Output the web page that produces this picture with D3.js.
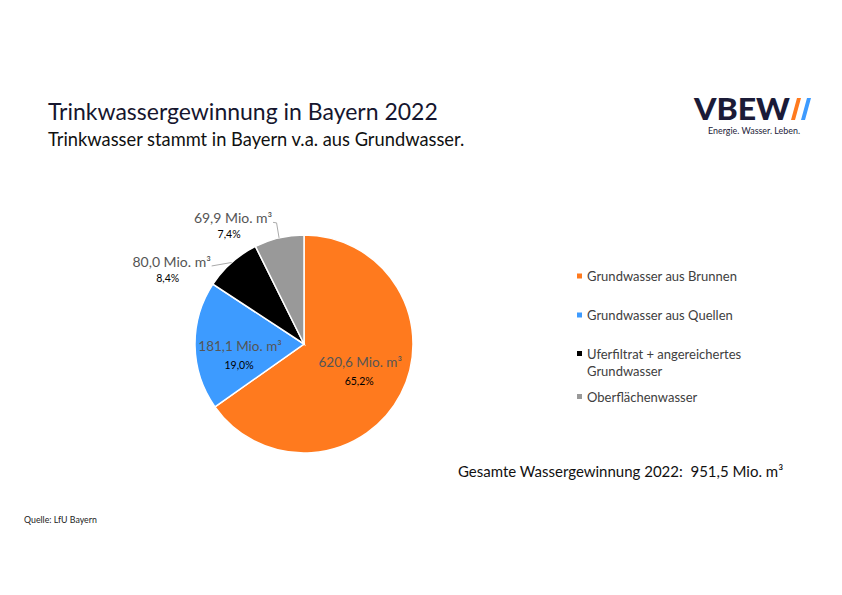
<!DOCTYPE html>
<html><head><meta charset="utf-8">
<script src="https://cdn.jsdelivr.net/npm/d3@7"></script>
<style>body{margin:0;background:#fff}svg{display:block}</style>
</head><body>
<script>
const categories = ["Grundwasser aus Brunnen","Grundwasser aus Quellen","Uferfiltrat + angereichertes Grundwasser","Oberflächenwasser"];
const legendLines = [["Grundwasser aus Brunnen"],["Grundwasser aus Quellen"],["Uferfiltrat + angereichertes","Grundwasser"],["Oberflächenwasser"]];
const values = [620.6, 181.1, 80.0, 69.9];
const percents = ["65,2%","19,0%","8,4%","7,4%"];
const valueLabels = ["620,6 Mio. m³","181,1 Mio. m³","80,0 Mio. m³","69,9 Mio. m³"];
const colors = ["#FF7A1E","#3D9BFF","#000000","#999999"];
const total = "951,5 Mio. m³";

const W=842,H=595;
const svg=d3.select("body").append("svg").attr("width",W).attr("height",H);
const font="Lato, 'Open Sans', sans-serif";

svg.append("text").attr("x",48).attr("y",120).attr("font-family",font).attr("font-size",23).attr("fill","#16162e").text("Trinkwassergewinnung in Bayern 2022");
svg.append("text").attr("x",48).attr("y",145.5).attr("font-family",font).attr("font-size",18.3).attr("fill","#111").text("Trinkwasser stammt in Bayern v.a. aus Grundwasser.");

// logo
const logo=svg.append("g");
logo.append("text").attr("transform","translate(694,120) scale(1,1.06)").attr("font-family",font).attr("font-weight",900).attr("font-size",29).attr("fill","#1b1b38").attr("textLength",96).attr("lengthAdjust","spacingAndGlyphs").text("VBEW");
logo.append("path").attr("d","M797,98 L801,98 L795,120 L791,120Z").attr("fill","#FF7A1E");
logo.append("path").attr("d","M807,98 L811,98 L805,120 L801,120Z").attr("fill","#3D9BFF");
logo.append("text").attr("x",708).attr("y",134).attr("font-family",font).attr("font-size",8.6).attr("fill","#1b1b38").attr("textLength",92).attr("lengthAdjust","spacingAndGlyphs").text("Energie. Wasser. Leben.");

// pie
const cx=304, cy=344, r=109;
const pie=d3.pie().sort(null).value(d=>d)(values);
const arc=d3.arc().innerRadius(0).outerRadius(r);
const g=svg.append("g").attr("transform",`translate(${cx},${cy})`);
g.selectAll("path").data(pie).join("path").attr("d",arc).attr("fill",(d,i)=>colors[i]).attr("stroke","#fff").attr("stroke-width",1.5);

// inner labels
const innerArc=d3.arc().innerRadius(r*0.55).outerRadius(r*0.55);
const innerNudge=[[3,-2],[-4,9]];
[0,1].forEach(i=>{
  const c=innerArc.centroid(pie[i]);
  const x=c[0]+innerNudge[i][0], y=c[1]+innerNudge[i][1];
  g.append("text").attr("x",x).attr("y",y-3).attr("text-anchor","middle").attr("font-family",font).attr("font-size",13.5).attr("fill","#555").text(valueLabels[i]);
  g.append("text").attr("x",x-1).attr("y",y+15).attr("text-anchor","middle").attr("font-family",font).attr("font-size",10.5).attr("fill","#000").text(percents[i]);
});

// outer labels with leader lines
const edge=d3.arc().innerRadius(r).outerRadius(r);
// black slice
{
  const p=edge.centroid(pie[2]);
  g.append("path").attr("d",`M${p[0]},${p[1]} L${p[0]-20},${p[1]+3.5}`).attr("stroke","#aaa").attr("fill","none").attr("stroke-width",1);
  const tx=p[0]-60, ty=p[1]+4.5;
  g.append("text").attr("x",tx).attr("y",ty).attr("text-anchor","middle").attr("font-family",font).attr("font-size",14).attr("fill","#555").text(valueLabels[2]);
  g.append("text").attr("x",tx-4).attr("y",ty+15).attr("text-anchor","middle").attr("font-family",font).attr("font-size",10.5).attr("fill","#000").text(percents[2]);
}
// gray slice
{
  const p=edge.centroid(pie[3]);
  g.append("path").attr("d",`M${p[0]},${p[1]} L${p[0]-2.5},${p[1]-15} L${p[0]-6},${p[1]-15.5}`).attr("stroke","#aaa").attr("fill","none").attr("stroke-width",1);
  const tx=p[0]-46, ty=p[1]-14.5;
  g.append("text").attr("x",tx).attr("y",ty).attr("text-anchor","middle").attr("font-family",font).attr("font-size",14).attr("fill","#555").text(valueLabels[3]);
  g.append("text").attr("x",tx-4).attr("y",ty+15).attr("text-anchor","middle").attr("font-family",font).attr("font-size",10.5).attr("fill","#000").text(percents[3]);
}

// legend
const legY=[281,320,358.5,401.5];
const lg=svg.append("g");
categories.forEach((c,i)=>{
  lg.append("rect").attr("x",577).attr("y",legY[i]-7.5).attr("width",5).attr("height",5).attr("fill",colors[i]);
  legendLines[i].forEach((t,j)=>{
    lg.append("text").attr("x",587).attr("y",legY[i]+j*17.3).attr("font-family",font).attr("font-size",13).attr("fill","#404040").text(t);
  });
});

svg.append("text").attr("x",458).attr("y",476.5).attr("font-family",font).attr("font-size",15).attr("fill","#111").style("white-space","pre").text("Gesamte Wassergewinnung 2022:  "+total);
svg.append("text").attr("x",24).attr("y",523).attr("font-family",font).attr("font-size",8.8).attr("fill","#222").text("Quelle: LfU Bayern");
</script>
</body></html>
